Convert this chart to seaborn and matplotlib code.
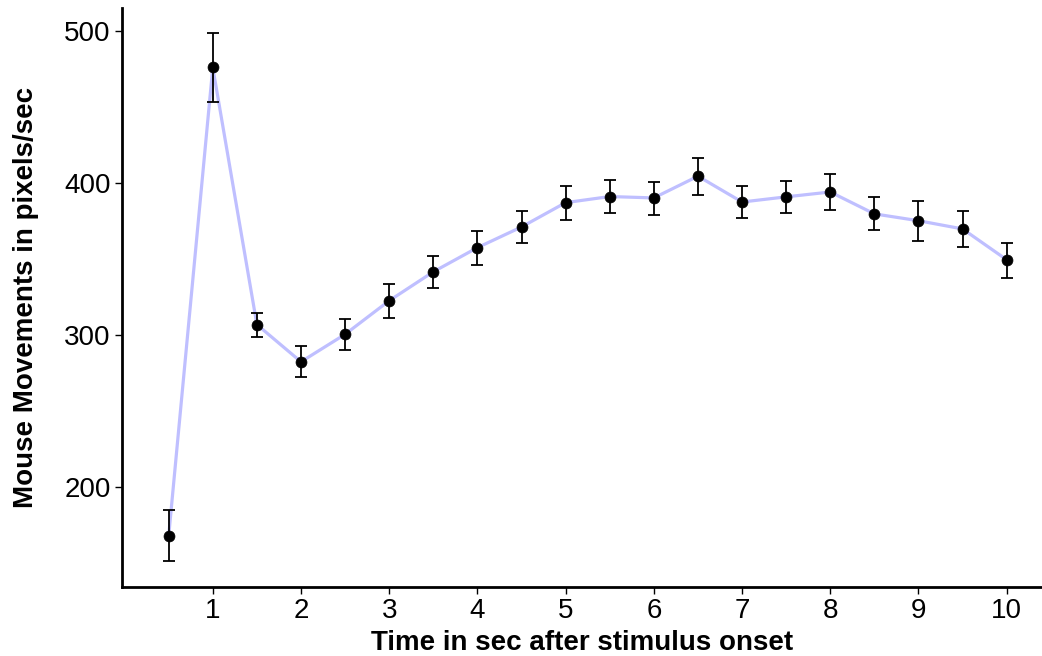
import numpy as np
import pandas as pd
import matplotlib
matplotlib.use("Agg")
import matplotlib.pyplot as plt
import seaborn as sns

# time bins (sec after stimulus onset)
time_sec = [0.5, 1.0, 1.5, 2.0, 2.5, 3.0, 3.5, 4.0, 4.5, 5.0,
            5.5, 6.0, 6.5, 7.0, 7.5, 8.0, 8.5, 9.0, 9.5, 10.0]

# mean mouse movement (pixels/sec)
mean_speed = [167.5, 475.8, 306.7, 282.2, 300.3, 322.4, 341.4, 357.3, 370.9, 386.9,
              390.9, 390.0, 404.3, 387.3, 390.7, 393.9, 379.5, 375.0, 369.6, 349.3]

# error bar bounds
err_low = [150.9, 453.3, 298.8, 271.9, 289.7, 311.2, 330.5, 346.2, 360.1, 375.8,
           379.9, 378.9, 392.2, 376.6, 379.9, 382.1, 368.6, 361.9, 357.8, 337.6]
err_high = [184.4, 498.5, 314.5, 292.8, 310.4, 333.2, 352.1, 368.0, 381.5, 397.8,
            401.6, 400.6, 416.1, 398.1, 401.1, 405.8, 390.3, 388.1, 381.5, 360.6]

df = pd.DataFrame({"time": time_sec, "speed": mean_speed,
                   "lo": err_low, "hi": err_high})

sns.set_style("white")
plt.rcParams["font.family"] = ["Liberation Sans", "DejaVu Sans"]
plt.rcParams["text.color"] = "black"
plt.rcParams["axes.labelcolor"] = "black"

fig = plt.figure(figsize=(10.42, 6.56), dpi=100)
ax = fig.add_axes([0.117, 0.105, 0.883, 0.883])

# connecting line
sns.lineplot(data=df, x="time", y="speed", color="#BFBFFF", linewidth=2.3,
             ax=ax, zorder=1)

# error bars
yerr = np.array([df["speed"] - df["lo"], df["hi"] - df["speed"]])
ax.errorbar(df["time"], df["speed"], yerr=yerr, fmt="none", ecolor="black",
            elinewidth=1.3, capsize=4, capthick=1.3, zorder=2)

# points
sns.scatterplot(data=df, x="time", y="speed", color="black", s=62,
                edgecolor="black", linewidth=0.5, ax=ax, zorder=3)

ax.set_xlim(-0.03, 10.4)
ax.set_ylim(134, 515)
ax.set_xticks(range(1, 11))
ax.set_yticks([200, 300, 400, 500])

ax.set_xlabel("Time in sec after stimulus onset", fontsize=20, fontweight="bold",
              labelpad=4, color="black")
ax.set_ylabel("Mouse Movements in pixels/sec", fontsize=20, fontweight="bold",
              labelpad=18, color="black")
ax.tick_params(axis="both", labelsize=20, length=5, width=1, color="black",
               labelcolor="black", direction="out", bottom=True, left=True, pad=3)

for side in ["top", "right"]:
    ax.spines[side].set_visible(False)
for side in ["left", "bottom"]:
    ax.spines[side].set_color("black")
    ax.spines[side].set_linewidth(2)

plt.savefig("out.png", dpi=100)
